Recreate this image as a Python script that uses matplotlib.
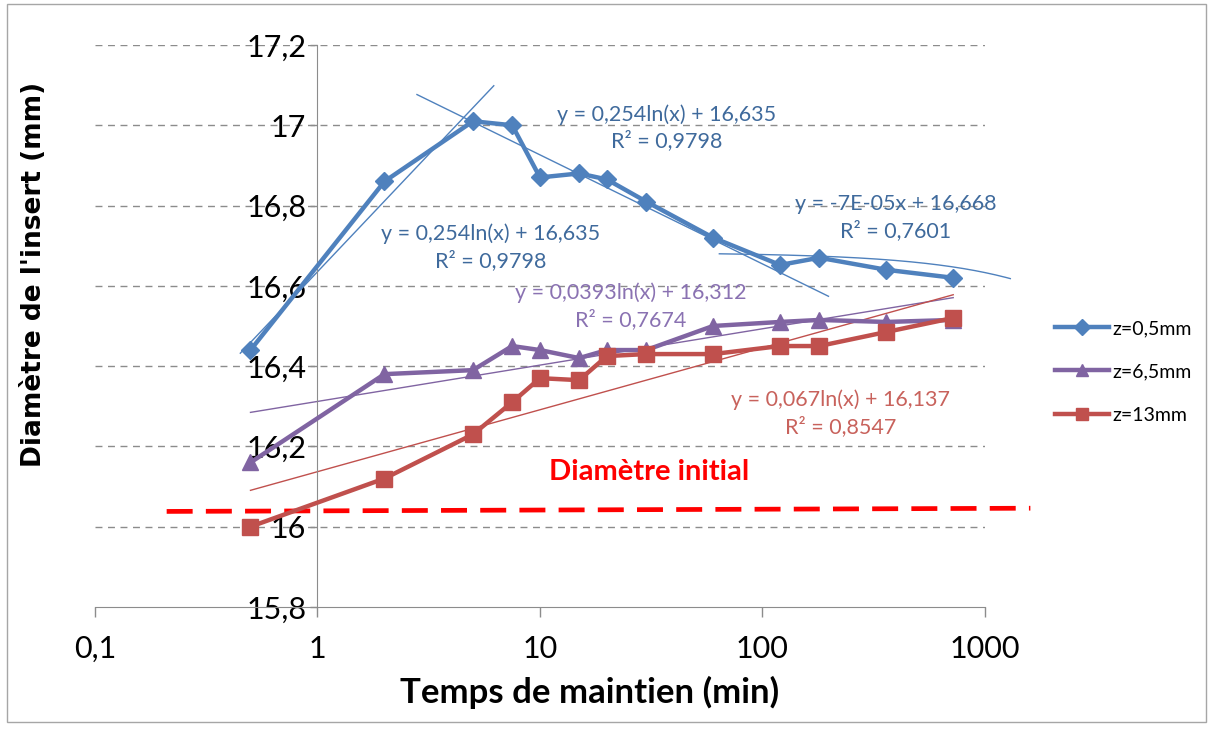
import numpy as np
import matplotlib
matplotlib.use("Agg")
import matplotlib.pyplot as plt
from matplotlib.patches import Rectangle

# data
temps = [0.5, 2, 5, 7.5, 10, 15, 20, 30, 60, 120, 180, 360, 720]
z_05 = [16.44, 16.86, 17.01, 17.00, 16.87, 16.88, 16.865, 16.81, 16.72, 16.652, 16.67, 16.64, 16.62]
z_65 = [16.16, 16.38, 16.39, 16.45, 16.44, 16.42, 16.44, 16.44, 16.50, 16.51, 16.515, 16.51, 16.515]
z_13 = [16.00, 16.12, 16.23, 16.31, 16.37, 16.365, 16.425, 16.43, 16.43, 16.45, 16.45, 16.485, 16.52]
labels = ["z=0,5mm", "z=6,5mm", "z=13mm"]

# trend lines: (kind, a, b, x_start, x_end, color)
# log: y = a*ln(x) + b ; lin: y = a*x + b
trends = [
    ("log", 0.254, 16.635, 0.45, 6.2, "#4F81BD"),
    ("log", -0.118, 17.198, 2.8, 198, "#4F81BD"),
    ("lin", -5.0e-5, 16.683, 64, 1300, "#4F81BD"),
    ("log", 0.0393, 16.312, 0.5, 720, "#8064A2"),
    ("log", 0.067, 16.137, 0.5, 720, "#C0504D"),
]
trend_texts = [
    ("y = 0,254ln(x) + 16,635\nR² = 0,9798", 37, 16.994, "#3F6A9C"),
    ("y = 0,254ln(x) + 16,635\nR² = 0,9798", 6.0, 16.697, "#3F6A9C"),
    ("y = -7E-05x + 16,668\nR² = 0,7601", 396, 16.77, "#3F6A9C"),
    ("y = 0,0393ln(x) + 16,312\nR² = 0,7674", 25.5, 16.55, "#8A72B2"),
    ("y = 0,067ln(x) + 16,137\nR² = 0,8547", 224, 16.283, "#C8625C"),
]
diam_initial_x = [0.21, 1600]
diam_initial_y = [16.038, 16.046]

plt.rcParams['font.family'] = ['Lato', 'DejaVu Sans']

fig = plt.figure(figsize=(12.13, 7.29), dpi=100)
ax = fig.add_axes([0.0783, 0.1674, 0.7337, 0.7709])

ax.set_xscale("log")
ax.set_xlim(0.1, 1000)
ax.set_ylim(15.8, 17.2)

# gridlines
for yv in np.arange(16.0, 17.21, 0.2):
    ax.axhline(yv, color="#8c8c8c", lw=1, ls=(0, (5, 4)), zorder=0)

for s in ["top", "right"]:
    ax.spines[s].set_visible(False)
ax.spines["left"].set_position(("data", 1))
ax.spines["left"].set_color("#8c8c8c")
ax.spines["bottom"].set_color("#8c8c8c")

ax.set_xticks([0.1, 1, 10, 100, 1000])
ax.set_xticklabels(["0,1", "1", "10", "100", "1000"])
ax.xaxis.set_minor_locator(matplotlib.ticker.NullLocator())
ax.set_yticks(np.round(np.arange(15.8, 17.21, 0.2), 1))
ax.set_yticklabels(["15,8", "16", "16,2", "16,4", "16,6", "16,8", "17", "17,2"])
ax.tick_params(axis="x", direction="out", length=7, width=1, color="#8c8c8c",
               labelsize=22, pad=13)
ax.tick_params(axis="y", direction="out", length=5, width=1, color="#8c8c8c",
               labelsize=22, pad=3)

colors = ["#4F81BD", "#8064A2", "#C0504D"]
markers = ["D", "^", "s"]
sizes = [9, 11, 11]
for vals, c, m, ms, lab in zip([z_05, z_65, z_13], colors, markers, sizes, labels):
    ax.plot(temps, vals, color=c, lw=3.2, marker=m, markersize=ms, label=lab,
            zorder=3)

for kind, a, b, x0, x1, c in trends:
    xs = np.logspace(np.log10(x0), np.log10(x1), 200)
    ys = a * np.log(xs) + b if kind == "log" else a * xs + b
    ax.plot(xs, ys, color=c, lw=1, zorder=2, clip_on=False)

for txt, tx, ty, c in trend_texts:
    ax.text(tx, ty, txt, color=c, fontsize=15.5, ha="center", va="center",
            linespacing=1.35, zorder=4)

ax.plot(diam_initial_x, diam_initial_y, color="#FF0000", lw=3.4, ls=(0, (5.5, 2.8)),
        clip_on=False, zorder=2)
ax.text(31, 16.135, "Diamètre initial", color="#FF0000", fontsize=21,
        fontweight="bold", ha="center", va="center")

ax.set_xlabel("Temps de maintien (min)", fontsize=25, fontweight="bold")
ax.xaxis.set_label_coords(0.556, -0.122)
fig.text(0.028, 0.623, "Diamètre de l'insert (mm)", rotation=90, fontsize=19,
         fontweight="bold", family="DejaVu Sans", ha="center", va="center")

fig.legend(loc="center left", bbox_to_anchor=(0.855, 0.49), frameon=False,
           fontsize=14, handlelength=2.8, labelspacing=1.35, handletextpad=0.15,
           markerscale=0.85)

fig.patches.append(Rectangle((0.006, 0.009), 0.988, 0.985, transform=fig.transFigure,
                             fill=False, edgecolor="#a6a6a6", lw=1))

fig.savefig("out.png", dpi=100)
